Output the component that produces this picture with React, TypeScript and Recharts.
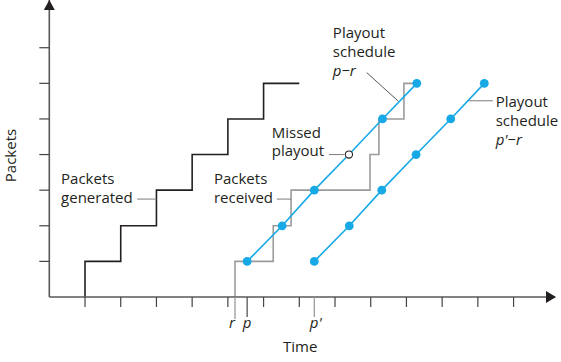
import React from 'react';
import { ComposedChart, Line, XAxis, YAxis, ReferenceLine, ReferenceDot } from 'recharts';

// time is in tick units, packets in packet units
const timeTicks = [1, 2, 3, 4, 5, 6, 7, 8, 9, 10, 11, 12, 13];
const packetTicks = [1, 2, 3, 4, 5, 6, 7];

// packets generated: one per tick, starting at t = 1
const genTimes = [1, 2, 3, 4, 5, 6];
const genEnd = 7;

// packets received (network delay varies)
const recvTimes = [5.2, 6.27, 6.77, 8.98, 9.23, 9.93];
const recvEnd = 10.29;

// playout schedules
const playCount = [1, 2, 3, 4, 5, 6];
const playP = [5.54, 6.52, 7.42, 8.39, 9.33, 10.29];
const playP2 = [7.42, 8.4, 9.31, 10.27, 11.24, 12.18];
const missedIndex = 3;

const markTicks = [
  { t: 5.2, label: 'r' },
  { t: 5.54, label: 'p' },
  { t: 7.42, label: "p'" },
];

const stairs = (times: number[], end: number) => {
  const pts = [{ t: times[0], v: 0 }];
  times.forEach((t, i) => pts.push({ t, v: i + 1 }));
  pts.push({ t: end, v: times.length });
  return pts;
};

const genData = stairs(genTimes, genEnd);
const recvData = stairs(recvTimes, recvEnd);
const pData = playP.map((t, i) => ({ t, v: playCount[i] }));
const p2Data = playP2.map((t, i) => ({ t, v: playCount[i] }));

const FONT = "'Open Sans', 'Noto Sans', sans-serif";
const INK = '#231f20';
const AXIS = '#58595b';
const BLUE = '#17a9e6';
const GREY = '#9b9b9b';
const LEAD = '#7d7d7d';

const TimeTick = (props: any) => {
  const { x, y, payload } = props;
  const mark = markTicks.find((m) => m.t === payload.value);
  if (!mark) {
    return <line x1={x} y1={y} x2={x} y2={y + 10} stroke="#444" strokeWidth={1.2} />;
  }
  const isR = mark.label === 'r';
  return (
    <g>
      <line x1={x} y1={y} x2={x} y2={y + (isR ? 22 : 20)} stroke={mark.label === 'p' ? '#555' : GREY} strokeWidth={1.3} />
      <text
        x={isR ? x - 3 : x - 4.5}
        y={y + 31}
        textAnchor={isR ? 'middle' : 'start'}
        fontFamily={FONT}
        fontSize={15}
        fontStyle="italic"
        fill={INK}
      >
        {mark.label}
      </text>
    </g>
  );
};

const PacketTick = (props: any) => {
  const { x, y } = props;
  return <line x1={x - 10} y1={y} x2={x} y2={y} stroke="#444" strokeWidth={1.2} />;
};

const PlayDot = (props: any) => {
  const { cx, cy, index, missed } = props;
  if (missed && index === missedIndex) {
    return <circle key={index} cx={cx} cy={cy} r={3.6} fill="#fff" stroke={INK} strokeWidth={1.1} />;
  }
  return <circle key={index} cx={cx} cy={cy} r={4.4} fill={BLUE} />;
};

const note = (lines: string[], lh: number, italicLast = false) => (p: any) => (
  <text x={p.cx} y={p.cy} fontFamily={FONT} fontSize={15} fill={INK}>
    {lines.map((l, i) => (
      <tspan key={i} x={p.cx} dy={i ? lh : 0} fontStyle={italicLast && i === lines.length - 1 ? 'italic' : 'normal'}>
        {l}
      </tspan>
    ))}
  </text>
);

const ArrowRight = (p: any) => (
  <polygon points={`${p.cx + 1},${p.cy} ${p.cx - 9},${p.cy - 6} ${p.cx - 9},${p.cy + 6}`} fill={INK} />
);
const ArrowUp = (p: any) => (
  <polygon points={`${p.cx},${p.cy} ${p.cx - 5.5},${p.cy + 10} ${p.cx + 5.5},${p.cy + 10}`} fill={INK} />
);

export default function App() {
  return (
    <div style={{ position: 'absolute', left: 0, top: 0, width: 561, height: 362, background: '#fff' }}>
      <ComposedChart width={561} height={362} margin={{ top: 0, right: 6, bottom: 0, left: 0 }}>
        <XAxis
          type="number"
          dataKey="t"
          domain={[0, 14.16]}
          allowDataOverflow
          ticks={[...timeTicks, ...markTicks.map((m) => m.t)]}
          interval={0}
          tickLine={false}
          tickSize={0}
          tickMargin={0}
          tick={<TimeTick />}
          height={65}
          axisLine={{ stroke: AXIS, strokeWidth: 1.6 }}
          label={{
            content: (lp: any) => (
              <text
                x={lp.viewBox.x + lp.viewBox.width / 2 - 2}
                y={lp.viewBox.y + lp.viewBox.height - 10}
                textAnchor="middle"
                fontFamily={FONT}
                fontSize={15}
                fill={INK}
              >
                Time
              </text>
            ),
          }}
        />
        <YAxis
          type="number"
          dataKey="v"
          domain={[0, 8.34]}
          allowDataOverflow
          ticks={packetTicks}
          interval={0}
          tickLine={false}
          tickSize={0}
          tickMargin={0}
          tick={<PacketTick />}
          width={49.3}
          axisLine={{ stroke: AXIS, strokeWidth: 1.6 }}
          label={{
            content: (lp: any) => {
              const x = lp.viewBox.x + 15.5;
              const y = lp.viewBox.y + lp.viewBox.height / 2 + 7;
              return (
                <text x={x} y={y} transform={`rotate(-90, ${x}, ${y})`} textAnchor="middle" fontFamily={FONT} fontSize={15} fill={INK}>
                  Packets
                </text>
              );
            },
          }}
        />

        <ReferenceDot x={14.16} y={0} r={0} ifOverflow="visible" shape={ArrowRight} />
        <ReferenceDot x={0} y={8.34} r={0} ifOverflow="visible" shape={ArrowUp} />

        <Line data={genData} dataKey="v" type="stepAfter" stroke={INK} strokeWidth={1.6} dot={false} isAnimationActive={false} />
        <Line data={recvData} dataKey="v" type="stepAfter" stroke={GREY} strokeWidth={1.6} dot={false} isAnimationActive={false} />

        {/* leader lines */}
        <ReferenceLine segment={[{ x: 2.46, y: 2.75 }, { x: 3, y: 2.75 }]} stroke={LEAD} strokeWidth={1} ifOverflow="visible" />
        <ReferenceLine segment={[{ x: 6.37, y: 2.75 }, { x: 6.77, y: 2.75 }]} stroke={LEAD} strokeWidth={1} ifOverflow="visible" />
        <ReferenceLine segment={[{ x: 7.83, y: 4 }, { x: 8.26, y: 4 }]} stroke={LEAD} strokeWidth={1} ifOverflow="visible" />
        <ReferenceLine segment={[{ x: 8.89, y: 6.3 }, { x: 9.77, y: 5.5 }]} stroke="#555" strokeWidth={1} ifOverflow="visible" />
        <ReferenceLine segment={[{ x: 11.7, y: 5.51 }, { x: 12.42, y: 5.51 }]} stroke={LEAD} strokeWidth={1} ifOverflow="visible" />

        <Line data={pData} dataKey="v" type="linear" stroke={BLUE} strokeWidth={1.6} dot={(p: any) => <PlayDot {...p} missed />} isAnimationActive={false} />
        <Line data={p2Data} dataKey="v" type="linear" stroke={BLUE} strokeWidth={1.6} dot={(p: any) => <PlayDot {...p} />} isAnimationActive={false} />

        {/* annotations */}
        <ReferenceDot x={0.33} y={3.16} r={0} ifOverflow="visible" shape={note(['Packets', 'generated'], 18.6)} />
        <ReferenceDot x={4.61} y={3.17} r={0} ifOverflow="visible" shape={note(['Packets', 'received'], 18.6)} />
        <ReferenceDot x={6.23} y={4.47} r={0} ifOverflow="visible" shape={note(['Missed', 'playout'], 18.6)} />
        <ReferenceDot x={7.94} y={7.28} r={0} ifOverflow="visible" shape={note(['Playout', 'schedule', 'p−r'], 19, true)} />
        <ReferenceDot x={12.5} y={5.34} r={0} ifOverflow="visible" shape={note(['Playout', 'schedule', "p'−r"], 19, true)} />
      </ComposedChart>
    </div>
  );
}
